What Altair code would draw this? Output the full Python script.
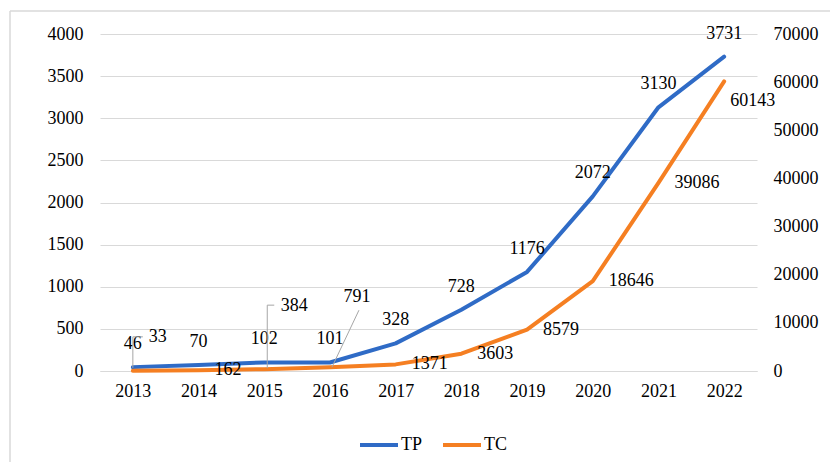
import altair as alt
import pandas as pd

years = ["2013", "2014", "2015", "2016", "2017", "2018", "2019", "2020", "2021", "2022"]
tp_values = [46, 70, 102, 101, 328, 728, 1176, 2072, 3130, 3731]
tc_values = [33, 162, 384, 791, 1371, 3603, 8579, 18646, 39086, 60143]
left_ticks = [0, 500, 1000, 1500, 2000, 2500, 3000, 3500, 4000]
right_ticks = [0, 10000, 20000, 30000, 40000, 50000, 60000, 70000]
series_names = ["TP", "TC"]

BLUE = "#2F6BC6"
ORANGE = "#F57F22"
GRID = "#D9D9D9"
FONT = "Liberation Serif"
FS = 18

long = pd.concat([
    pd.DataFrame({"year": years, "series": "TP", "value": tp_values}),
    pd.DataFrame({"year": years, "series": "TC", "value": tc_values}),
], ignore_index=True)

x_enc = alt.X("year:O", scale=alt.Scale(type="point", padding=0.5),
              axis=alt.Axis(title=None, labelAngle=0, ticks=False, domain=True,
                            domainColor=GRID, domainWidth=1, labelPadding=11,
                            grid=False))

y_left = alt.Y("value:Q", scale=alt.Scale(domain=[0, 4000]),
               axis=alt.Axis(title=None, values=left_ticks, grid=True, gridColor=GRID,
                             gridWidth=1, domain=False, ticks=False, labelPadding=17,
                             orient="left", format="d"))
y_right = alt.Y("value:Q", scale=alt.Scale(domain=[0, 70000]),
                axis=alt.Axis(title=None, values=right_ticks, grid=False, domain=False,
                              ticks=False, labelPadding=16, orient="right", format="d"))

color_enc = alt.Color("series:N", scale=alt.Scale(domain=series_names, range=[BLUE, ORANGE]),
                      legend=alt.Legend(title=None, orient="none", direction="horizontal",
                                        legendX=258, legendY=390, symbolType="stroke",
                                        symbolSize=1444, symbolStrokeWidth=4,
                                        labelFont=FONT, labelFontSize=FS,
                                        labelColor="black",
                                        labelOffset=1, columnPadding=12, padding=0))

base = alt.Chart(long)
tp_base = base.transform_filter(alt.datum.series == "TP")
tc_base = base.transform_filter(alt.datum.series == "TC")

# chart frame
frame_df = pd.DataFrame({"k": [0]})
frame_left = alt.Chart(frame_df).mark_rule(color=GRID, strokeWidth=1.5).encode(
    x=alt.value(-90), y=alt.value(-23), y2=alt.value(440))
frame_top = alt.Chart(frame_df).mark_rule(color=GRID, strokeWidth=1.5).encode(
    x=alt.value(-90), x2=alt.value(740), y=alt.value(-23))

tp_line = tp_base.mark_line(strokeWidth=4, strokeCap="round", strokeJoin="round").encode(
    x=x_enc, y=y_left, color=color_enc)
tp_text = tp_base.mark_text(font=FONT, fontSize=FS, color="black", dy=-23, align="center",
                            baseline="middle").encode(x=x_enc, y=y_left, text="value:Q")

left = alt.layer(frame_left, frame_top, tp_line, tp_text)

tc_line = tc_base.mark_line(strokeWidth=4, strokeCap="round", strokeJoin="round").encode(
    x=x_enc, y=y_right, color=color_enc)

tc_text_std = tc_base.transform_filter(
    "indexof(['2013','2015','2016','2022'], datum.year) < 0"
).mark_text(font=FONT, fontSize=FS, color="black", dx=16, align="left",
            baseline="middle").encode(x=x_enc, y=y_right, text="value:Q")


def tc_label(year, dx, dy, align="center"):
    return tc_base.transform_filter(alt.datum.year == year).mark_text(
        font=FONT, fontSize=FS, color="black", dx=dx, dy=dy, align=align,
        baseline="middle").encode(x=x_enc, y=y_right, text="value:Q")


def leader(year, xo, yo, x2o, y2o):
    return tc_base.transform_filter(alt.datum.year == year).mark_rule(
        color="#A6A6A6", strokeWidth=1, xOffset=xo, yOffset=yo,
        x2Offset=x2o, y2Offset=y2o).encode(
        x=x_enc, y=y_right, x2=alt.X2("year:O"), y2=alt.Y2("value:Q"))


tc_layers = [
    tc_line,
    leader("2013", 0, -3, 0, -34),
    leader("2013", 0, -34, 10, -34),
    leader("2015", 3, -1, 3, -64),
    leader("2015", 3, -64, 10, -64),
    leader("2016", 2, 0, 29, -57),
    tc_text_std,
    tc_label("2013", 25, -34),
    tc_label("2015", 30, -63),
    tc_label("2016", 27, -70),
    tc_label("2022", 6, 20, "left"),
]
right = alt.layer(*tc_layers)

chart = alt.layer(left, right).resolve_scale(y="independent").properties(
    width=657, height=337,
    autosize=alt.AutoSizeParams(type="none"),
    padding={"left": 100, "top": 34, "right": 73, "bottom": 91},
    background="white",
).configure_view(stroke=None).configure_axis(
    labelFont=FONT, labelFontSize=FS, labelColor="black"
)

chart.save("out.html", embed_options={"renderer": "svg", "actions": False})
